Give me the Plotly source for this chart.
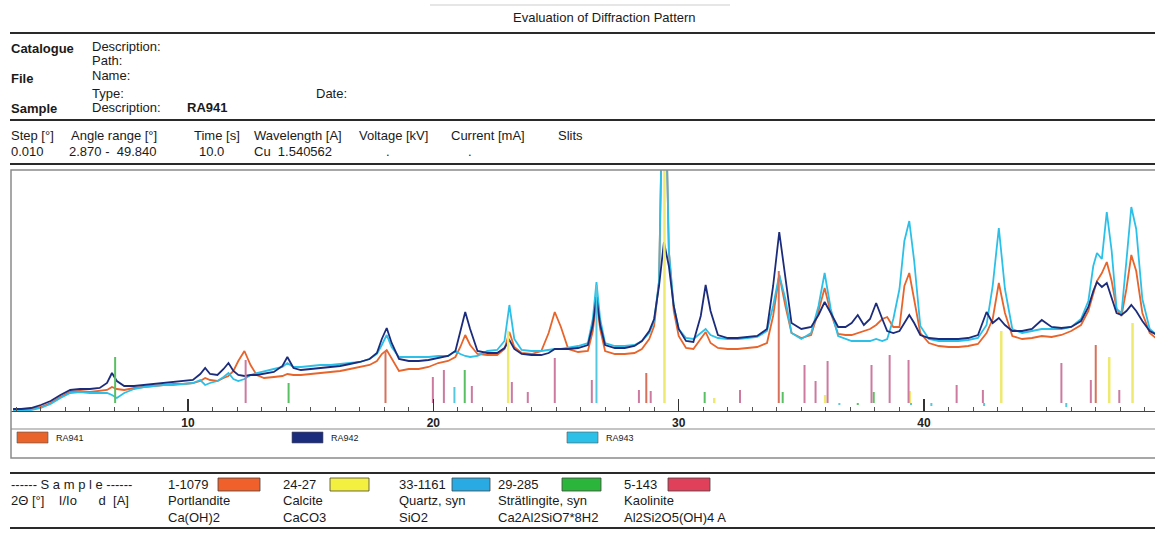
import plotly.graph_objects as go

W, H = 1155, 540

# ---------------- data ----------------
two_theta = [
    2.87, 3.2, 3.6, 4.0, 4.4, 4.8, 5.2, 5.6, 6.0, 6.4,
    6.7, 6.9, 7.1, 7.4, 7.8, 8.2, 8.6, 9.0, 9.4, 9.8,
    10.2, 10.5, 10.7, 10.9, 11.2, 11.45, 11.65, 11.85, 12.05, 12.3,
    12.55, 12.8, 13.1, 13.5, 13.85, 14.05, 14.3, 14.6, 15.0, 15.4,
    15.8, 16.2, 16.6, 17.0, 17.4, 17.7, 17.9, 18.1, 18.3, 18.6,
    19.0, 19.4, 19.8, 20.2, 20.6, 20.9, 21.1, 21.3, 21.5, 21.8,
    22.2, 22.6, 22.9, 23.1, 23.3, 23.6, 24.0, 24.4, 24.7, 24.95,
    25.2, 25.5, 25.9, 26.3, 26.5, 26.65, 26.8, 27.0, 27.4, 27.8,
    28.2, 28.5, 28.8, 29.0, 29.2, 29.4, 29.6, 29.8, 30.0, 30.3,
    30.6, 30.9, 31.1, 31.3, 31.6, 32.0, 32.4, 32.8, 33.2, 33.6,
    33.85, 34.1, 34.35, 34.6, 35.0, 35.4, 35.7, 35.95, 36.2, 36.5,
    36.8, 37.05, 37.3, 37.55, 37.8, 38.05, 38.3, 38.5, 38.75, 39.0,
    39.2, 39.4, 39.6, 39.85, 40.2, 40.6, 41.0, 41.4, 41.8, 42.2,
    42.55, 42.8, 43.05, 43.3, 43.6, 44.0, 44.4, 44.8, 45.2, 45.6,
    46.0, 46.4, 46.7, 46.9, 47.05, 47.25, 47.45, 47.65, 47.85, 48.05,
    48.25, 48.45, 48.65, 48.9, 49.2, 49.5, 49.84,
]

ra941 = [
    1, 1, 2, 4, 8, 14, 19, 20, 19, 20,
    21, 24, 22, 21, 23, 24, 25, 26, 27, 27,
    28, 30, 33, 31, 30, 33, 35, 40, 50, 60,
    46, 36, 33, 34, 35, 37, 36, 36, 37, 38,
    39, 40, 42, 44, 46, 50, 57, 61, 52, 40,
    42, 42, 44, 48, 50, 54, 64, 76, 66, 57,
    56, 56, 62, 79, 64, 58, 57, 60, 78, 99,
    84, 62, 59, 60, 80, 111, 82, 60, 57, 57,
    58, 62, 72, 85, 130, 400, 160, 100, 75, 63,
    62, 72, 79, 68, 63, 62, 62, 63, 64, 68,
    95, 136, 105, 78, 73, 76, 100, 123, 98, 77,
    76, 76, 78, 80, 82, 86, 92, 94, 84, 84,
    125, 138, 112, 78, 68, 65, 64, 64, 65, 67,
    78, 92, 128, 98, 75, 72, 73, 75, 74, 76,
    80, 86, 100, 118, 130, 138, 149, 130, 102, 95,
    122, 156, 140, 98, 78, 72, 70,
]

ra942 = [
    2, 2, 3, 6, 10, 16, 21, 22, 22, 23,
    28, 38, 30, 25, 25, 26, 27, 28, 29, 30,
    31, 37, 43, 37, 36, 42, 48, 40, 36, 35,
    36, 36, 37, 39, 45, 54, 43, 41, 42, 43,
    44, 45, 47, 49, 52, 58, 72, 83, 68, 52,
    50, 50, 51, 53, 55, 60, 80, 99, 82, 60,
    58, 58, 63, 71, 62, 57, 56, 56, 58, 62,
    62, 62, 63, 66, 86, 114, 86, 66, 63, 63,
    65, 70, 80, 92, 125, 169, 145, 105, 82, 70,
    69, 95, 126, 100, 76, 73, 73, 74, 75, 82,
    125, 179, 135, 88, 82, 84, 96, 109, 98, 84,
    84, 88, 96, 86, 92, 108, 92, 80, 78, 80,
    88, 96, 88, 76, 73, 72, 72, 72, 73, 76,
    99, 88, 93, 86, 80, 80, 82, 91, 84, 83,
    84, 90, 104, 120, 129, 124, 128, 112, 98, 96,
    100, 106, 100, 90, 80, 76, 74,
]

ra943 = [
    0, 0, 1, 3, 7, 13, 18, 19, 18, 18,
    18, 16, 13, 18, 22, 24, 25, 26, 26, 27,
    28, 31, 26, 28, 30, 34, 38, 32, 30, 32,
    36, 38, 40, 42, 44, 48, 44, 44, 45, 46,
    46, 47, 48, 49, 52, 57, 66, 76, 64, 54,
    54, 54, 54, 55, 55, 60, 57, 55, 54, 55,
    60, 61, 70, 106, 72, 61, 60, 60, 61, 62,
    62, 63, 65, 68, 92, 129, 92, 68, 65, 65,
    66, 70, 78, 90, 130, 400, 160, 105, 82, 73,
    72, 78, 82, 76, 73, 72, 72, 73, 74, 80,
    105, 136, 112, 78, 72, 78, 105, 138, 102, 75,
    72, 70, 70, 70, 70, 72, 70, 72, 92, 122,
    170, 190, 150, 85, 72, 70, 70, 70, 71, 73,
    86, 125, 183, 122, 82, 78, 80, 82, 82, 82,
    84, 92, 110, 145, 158, 152, 199, 160, 102, 98,
    150, 204, 182, 112, 82, 76, 74,
]

series_names = ["RA941", "RA942", "RA943"]
series_colors = ["#e8642a", "#1c2c7c", "#2cc0e8"]

# reference patterns (stick positions and heights)
phase_codes = ["1-1079", "24-27", "33-1161", "29-285", "5-143"]
phase_names = ["Portlandite", "Calcite", "Quartz, syn", "Strätlingite, syn", "Kaolinite"]
phase_formulas = ["Ca(OH)2", "CaCO3", "SiO2", "Ca2Al2SiO7*8H2", "Al2Si2O5(OH)4 A"]
phase_colors = ["#f0602a", "#f4f040", "#29aae2", "#2bb53a", "#e0405a"]
stick_colors = ["#d8705a", "#eeea70", "#55c8e0", "#58c060", "#cc7aa0"]

portlandite_pos = [18.05, 28.68, 34.08, 47.0]
portlandite_int = [60, 38, 140, 66]
calcite_pos = [23.05, 29.42, 31.45, 35.97, 39.42, 43.15, 47.55, 48.5]
calcite_int = [80, 300, 13, 16, 20, 80, 54, 88]
quartz_pos = [20.86, 26.65, 36.55, 39.47, 40.3, 42.45, 45.8]
quartz_int = [24, 126, 6, 6, 5, 5, 4]
stratlingite_pos = [7.03, 14.1, 21.28, 31.06, 34.24, 37.3, 37.95]
stratlingite_int = [54, 28, 41, 19, 19, 6, 19]
kaolinite_pos = [12.35, 19.98, 20.43, 21.57, 23.2, 23.85, 24.95, 26.46, 28.38, 28.86,
                 32.5, 35.13, 35.58, 36.07, 37.86, 38.6, 39.37, 41.33, 42.4, 45.6,
                 46.8, 47.96]
kaolinite_int = [51, 34, 41, 25, 29, 19, 53, 31, 21, 20,
                 21, 46, 30, 50, 46, 56, 51, 26, 21, 48,
                 31, 21]
stick_base = 8

tick_labels = ["10", "20", "30", "40"]

# ---------------- figure ----------------
fig = go.Figure()

order = [0, 2, 1]
all_series = [ra941, ra942, ra943]
for i in order:
    fig.add_trace(go.Scatter(x=two_theta, y=all_series[i], mode="lines",
                             line=dict(color=series_colors[i], width=1.8),
                             name=series_names[i], showlegend=False,
                             hoverinfo="skip"))

sticks = [(portlandite_pos, portlandite_int), (calcite_pos, calcite_int),
          (quartz_pos, quartz_int), (stratlingite_pos, stratlingite_int),
          (kaolinite_pos, kaolinite_int)]
for k, (pos, inten) in enumerate(sticks):
    xs, ys = [], []
    for p, v in zip(pos, inten):
        xs += [p, p, None]
        ys += [stick_base, v, None]
    fig.add_trace(go.Scatter(x=xs, y=ys, mode="lines",
                             line=dict(color=stick_colors[k], width=2 if k != 1 else 2.5),
                             showlegend=False, hoverinfo="skip"))

px_per_deg = (924 - 188) / 30.0
x_left = 10 - (188 - 11) / px_per_deg
x_right = 10 + (W - 188) / px_per_deg

fig.update_xaxes(
    domain=[11 / W, 1], range=[x_left, x_right],
    showgrid=False, zeroline=False, showline=True, linecolor="#444", linewidth=1.2,
    ticks="inside", tickvals=[10, 20, 30, 40], ticktext=tick_labels,
    ticklen=12, tickwidth=1.5, tickcolor="#333",
    tickfont=dict(family="Liberation Sans, Arial", size=12, color="#222", weight="bold"),
    minor=dict(dtick=1, tick0=0, ticks="inside", ticklen=4, tickcolor="#555", tickwidth=1),
)
fig.update_yaxes(domain=[(H - 411) / H, (H - 170) / H], range=[0, 241], visible=False)

shapes = []
annotations = []
FONT = "Liberation Sans, Arial, sans-serif"


def px(x):
    return x / W


def py(y):
    return 1 - y / H


def hline(y, x0, x1, width=2, color="#2a2a2a"):
    shapes.append(dict(type="line", xref="paper", yref="paper", x0=px(x0), x1=px(x1),
                       y0=py(y), y1=py(y), line=dict(color=color, width=width)))


def rect(x0, y0, x1, y1, fill, line="#555", lw=0.8):
    shapes.append(dict(type="rect", xref="paper", yref="paper", x0=px(x0), x1=px(x1),
                       y0=py(y0), y1=py(y1), fillcolor=fill, line=dict(color=line, width=lw)))


def txt(x, y, s, size=13, bold=False, color="#1a1a1a", anchor="left"):
    annotations.append(dict(x=px(x), y=py(y), xref="paper", yref="paper", text=s,
                            showarrow=False, xanchor=anchor, yanchor="middle",
                            borderpad=0,
                            font=dict(family=FONT, size=size, color=color,
                                      weight="bold" if bold else "normal")))


# rules
hline(5, 430, 730, width=2, color="#e6e6e6")
hline(33, 10, W + 5, 2)
hline(120, 10, W + 5, 2)
hline(164, 10, W + 5, 2)
hline(473, 10, W + 5, 2)
hline(528, 10, W + 5, 2)

# chart frame
shapes.append(dict(type="rect", xref="paper", yref="paper", x0=px(11), x1=px(W + 20),
                   y0=py(458), y1=py(170), line=dict(color="#8a8a8a", width=1.5)))
hline(429, 11, W + 5, 1.2, "#8a8a8a")

# header
txt(604, 18, "Evaluation of Diffraction Pattern", 13, anchor="center")
txt(10, 48, "Catalogue", 13, True)
txt(91, 47, "Description:")
txt(91, 61, "Path:")
txt(10, 79, "File", 13, True)
txt(91, 76, "Name:")
txt(91, 93, "Type:")
txt(315, 93, "Date:")
txt(10, 109, "Sample", 13, True)
txt(91, 108, "Description:")
txt(186, 108, "RA941", 13, True)

txt(10, 135, "Step [°]")
txt(70, 135, "Angle range [°]")
txt(193, 135, "Time [s]")
txt(253, 135, "Wavelength [A]")
txt(358, 135, "Voltage [kV]")
txt(450, 135, "Current [mA]")
txt(557, 135, "Slits")
txt(10, 151, "0.010")
txt(68, 151, "2.870 -  49.840")
txt(198, 151, "10.0")
txt(253, 151, "Cu  1.540562")
txt(385, 152, ".")
txt(467, 152, ".")

# sample legend
leg_x = [17, 292, 567]
for i in range(3):
    rect(leg_x[i], 432, leg_x[i] + 31, 443, series_colors[i], "#555", 0.6)
    txt(leg_x[i] + 38, 438, series_names[i], 9)

# phase table
txt(10, 484, "------ S a m p l e ------")
txt(10, 500, "2Θ [°]    I/Io      d  [A]")
code_x = [167, 282, 398, 497, 623]
sw_x = [218, 330, 452, 562, 668]
sw_w = [42, 39, 38, 39, 42]
for i in range(5):
    txt(code_x[i], 484, phase_codes[i])
    rect(sw_x[i], 478, sw_x[i] + sw_w[i], 491, phase_colors[i], "#444", 0.8)
    txt(code_x[i], 500, phase_names[i])
    txt(code_x[i], 517, phase_formulas[i])

fig.update_layout(
    width=W, height=H, margin=dict(l=0, r=0, t=0, b=0),
    paper_bgcolor="white", plot_bgcolor="white",
    shapes=shapes, annotations=annotations, showlegend=False,
)

fig.write_html(
    "out.html",
    config={"displayModeBar": False, "staticPlot": True},
    post_script="document.body.style.margin='0';document.body.style.padding='0';"
                "document.body.style.overflow='hidden';",
)
